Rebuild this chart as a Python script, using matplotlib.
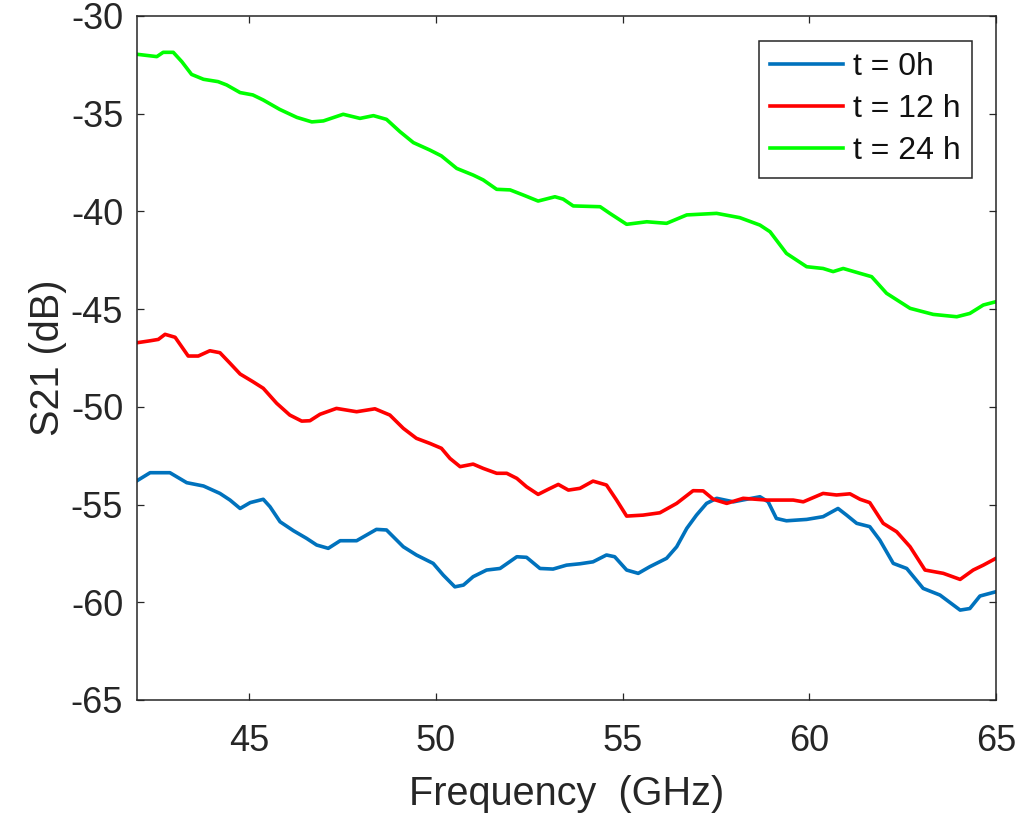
from __future__ import annotations

import matplotlib

matplotlib.use("Agg")
import matplotlib.pyplot as plt

# values (GHz, dB)
freq_0h = [42.0, 42.35, 42.88, 43.33, 43.78, 44.22, 44.49, 44.76, 45.03, 45.38,
           45.56, 45.83, 46.19, 46.54, 46.81, 47.12, 47.44, 47.88, 48.41, 48.68,
           49.13, 49.48, 49.93, 50.2, 50.51, 50.74, 51.0, 51.36, 51.72, 52.17,
           52.43, 52.79, 53.14, 53.5, 53.86, 54.21, 54.57, 54.79, 55.11, 55.42,
           55.73, 56.18, 56.45, 56.72, 56.98, 57.25, 57.52, 57.97, 58.32, 58.68,
           58.9, 59.12, 59.39, 59.93, 60.37, 60.77, 61.0, 61.27, 61.62, 61.89,
           62.25, 62.61, 63.05, 63.5, 64.04, 64.3, 64.57, 65.0]
s21_0h = [-53.78, -53.37, -53.37, -53.88, -54.05, -54.43, -54.77, -55.2, -54.9, -54.73,
          -55.11, -55.88, -56.34, -56.73, -57.07, -57.24, -56.85, -56.85, -56.27, -56.3,
          -57.16, -57.58, -58.01, -58.61, -59.21, -59.12, -58.69, -58.35, -58.27, -57.67,
          -57.7, -58.27, -58.3, -58.1, -58.03, -57.93, -57.58, -57.67, -58.35, -58.52,
          -58.18, -57.75, -57.16, -56.22, -55.54, -54.94, -54.68, -54.86, -54.73, -54.6,
          -54.86, -55.71, -55.83, -55.76, -55.62, -55.2, -55.54, -55.96, -56.13, -56.82,
          -58.01, -58.27, -59.29, -59.63, -60.4, -60.32, -59.68, -59.46]

freq_12h = [42.0, 42.35, 42.57, 42.75, 43.02, 43.37, 43.64, 43.95, 44.22, 44.49,
            44.76, 45.1, 45.38, 45.74, 46.09, 46.41, 46.63, 46.9, 47.34, 47.88,
            48.37, 48.77, 49.13, 49.48, 49.84, 50.15, 50.38, 50.65, 51.0, 51.27,
            51.63, 51.9, 52.17, 52.43, 52.74, 53.01, 53.28, 53.55, 53.86, 54.21,
            54.57, 54.84, 55.11, 55.55, 56.0, 56.45, 56.89, 57.16, 57.43, 57.79,
            58.23, 58.86, 59.57, 59.84, 60.37, 60.73, 61.09, 61.36, 61.62, 61.98,
            62.34, 62.7, 63.1, 63.59, 64.04, 64.39, 64.66, 65.0]
s21_12h = [-46.72, -46.62, -46.55, -46.29, -46.44, -47.4, -47.4, -47.13, -47.23, -47.77,
           -48.32, -48.71, -49.05, -49.82, -50.42, -50.73, -50.71, -50.38, -50.08, -50.25,
           -50.1, -50.42, -51.1, -51.61, -51.87, -52.12, -52.64, -53.06, -52.93, -53.15,
           -53.4, -53.4, -53.66, -54.09, -54.48, -54.22, -53.97, -54.26, -54.17, -53.8,
           -54.0, -54.77, -55.59, -55.54, -55.42, -54.94, -54.29, -54.3, -54.73, -54.94,
           -54.68, -54.77, -54.77, -54.86, -54.43, -54.51, -54.45, -54.73, -54.9, -55.96,
           -56.39, -57.16, -58.35, -58.52, -58.83, -58.35, -58.1, -57.75]

freq_24h = [42.0, 42.53, 42.7, 42.97, 43.2, 43.46, 43.78, 44.17, 44.4, 44.76,
            45.1, 45.38, 45.82, 46.28, 46.68, 46.99, 47.52, 47.97, 48.33, 48.68,
            49.04, 49.4, 49.84, 50.15, 50.56, 51.0, 51.27, 51.63, 51.99, 52.34,
            52.74, 53.19, 53.41, 53.68, 54.4, 54.66, 55.11, 55.65, 56.18, 56.72,
            57.52, 58.14, 58.68, 58.95, 59.39, 59.93, 60.37, 60.64, 60.91, 61.36,
            61.67, 62.07, 62.7, 63.32, 63.95, 64.3, 64.66, 65.0]
s21_24h = [-31.96, -32.08, -31.86, -31.86, -32.34, -32.99, -33.24, -33.36, -33.53, -33.92,
           -34.04, -34.3, -34.78, -35.19, -35.42, -35.37, -35.03, -35.24, -35.1, -35.29,
           -35.92, -36.48, -36.86, -37.16, -37.8, -38.14, -38.39, -38.87, -38.9, -39.16,
           -39.47, -39.25, -39.37, -39.72, -39.76, -40.1, -40.66, -40.53, -40.61, -40.18,
           -40.1, -40.32, -40.7, -41.04, -42.15, -42.83, -42.92, -43.08, -42.92, -43.17,
           -43.34, -44.19, -44.96, -45.27, -45.39, -45.22, -44.79, -44.62]

labels = ["t = 0h", "t = 12 h", "t = 24 h"]
x_ticks = [45, 50, 55, 60, 65]
y_ticks = [-30, -35, -40, -45, -50, -55, -60, -65]


def main() -> None:
    plt.rcParams["font.family"] = ["Liberation Sans", "DejaVu Sans"]
    plt.rcParams["axes.unicode_minus"] = False
    ink = "#262626"

    fig = plt.figure(figsize=(10.35, 8.19), dpi=100)
    ax = fig.add_axes([0.1324, 0.1453, 0.8299, 0.8352])

    ax.plot(freq_0h, s21_0h, color="#0072BD", linewidth=2.6, label=labels[0])
    ax.plot(freq_12h, s21_12h, color="#FF0000", linewidth=2.6, label=labels[1])
    ax.plot(freq_24h, s21_24h, color="#00FF00", linewidth=2.6, label=labels[2])

    ax.set_xlim(42, 65)
    ax.set_ylim(-65, -30)
    ax.set_xticks(x_ticks)
    ax.set_yticks(y_ticks)
    ax.tick_params(direction="in", top=True, right=True, length=5, width=0.9,
                   colors=ink, labelsize=26)
    ax.tick_params(axis="x", pad=17)
    ax.tick_params(axis="y", pad=10)
    for spine in ax.spines.values():
        spine.set_color(ink)
        spine.set_linewidth(1.1)

    ax.set_xlabel("Frequency  (GHz)", fontsize=28.5, color=ink, labelpad=12)
    ax.set_ylabel("S21 (dB)", fontsize=28.5, color=ink, labelpad=3)

    leg = ax.legend(loc="upper right", bbox_to_anchor=(0.9391, 0.9499),
                    bbox_transform=fig.transFigure, borderaxespad=0,
                    fontsize=23, handlelength=2.3, handletextpad=0.3,
                    labelspacing=0.38, borderpad=0.35, fancybox=False,
                    framealpha=1, edgecolor=ink)
    leg.get_frame().set_linewidth(1.1)
    for text in leg.get_texts():
        text.set_color("#111111")

    fig.savefig("out.png", dpi=100)
    plt.close(fig)


if __name__ == "__main__":
    main()
